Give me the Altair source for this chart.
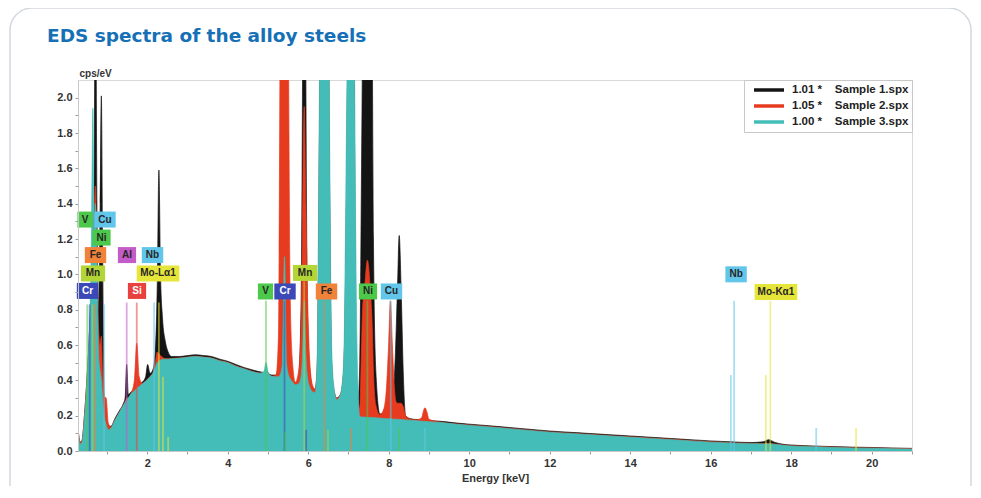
import altair as alt
import pandas as pd

chart_title = "EDS spectra of the alloy steels"

# ---------------- spectra (energy in keV, counts in cps/eV) ----------------
energy = [0.28, 0.33, 0.38, 0.44, 0.50, 0.54, 0.58, 0.62, 0.65, 0.68, 0.71, 0.75, 0.79, 0.83, 0.86, 0.89, 0.93, 0.98, 1.03, 1.10,
          1.20, 1.30, 1.40, 1.45, 1.49, 1.53, 1.60, 1.68, 1.74, 1.80, 1.88, 1.96, 2.01, 2.07, 2.14, 2.20, 2.25, 2.29, 2.33, 2.38,
          2.45, 2.52, 2.60, 2.80, 3.00, 3.20, 3.40, 3.60, 3.80, 4.00, 4.20, 4.40, 4.60, 4.80, 4.90, 4.95, 5.01, 5.10, 5.20, 5.26,
          5.30, 5.36, 5.41, 5.46, 5.51, 5.55, 5.61, 5.68, 5.76, 5.82, 5.86, 5.90, 5.94, 5.98, 6.04, 6.11, 6.17, 6.22, 6.26, 6.29,
          6.40, 6.51, 6.54, 6.58, 6.64, 6.71, 6.80, 6.88, 6.94, 6.98, 7.06, 7.14, 7.18, 7.23, 7.28, 7.32, 7.35, 7.40, 7.47, 7.54,
          7.59, 7.62, 7.68, 7.78, 7.88, 7.95, 8.00, 8.04, 8.09, 8.14, 8.18, 8.22, 8.26, 8.31, 8.36, 8.42, 8.55, 8.70, 8.82, 8.86,
          8.90, 8.95, 9.00, 9.30, 9.70, 10.0, 10.5, 11.0, 11.5, 12.0, 12.5, 13.0, 13.5, 14.0, 14.5, 15.0, 15.5, 16.0, 16.5, 17.0,
          17.3, 17.44, 17.58, 17.8, 18.0, 18.5, 19.0, 19.5, 20.0, 20.5, 21.0]

sample1 = [0.13, 0.05, 0.06, 0.20, 0.40, 0.55, 0.75, 0.90, 1.10, 1.40, 3.00, 1.40, 0.80, 1.40, 2.01, 1.20, 0.30, 0.18, 0.14, 0.14,
           0.185, 0.225, 0.265, 0.30, 0.49, 0.32, 0.335, 0.35, 0.37, 0.375, 0.39, 0.42, 0.49, 0.44, 0.46, 0.56, 0.95, 1.59, 1.00, 0.75,
           0.62, 0.56, 0.535, 0.535, 0.54, 0.545, 0.54, 0.535, 0.52, 0.508, 0.49, 0.473, 0.46, 0.448, 0.445, 0.46, 0.44, 0.43, 0.43, 0.50,
           0.80, 1.20, 1.50, 1.20, 0.80, 0.50, 0.40, 0.37, 0.42, 0.80, 2.20, 5.00, 2.20, 0.80, 0.45, 0.36, 0.35, 0.45, 1.20, 2.20,
           10.0, 2.20, 1.20, 0.50, 0.34, 0.30, 0.32, 0.45, 1.20, 2.20, 5.00, 2.20, 0.60, 0.25, 0.50, 1.50, 2.40, 5.00, 12.0, 5.00,
           2.40, 1.20, 0.45, 0.21, 0.22, 0.25, 0.28, 0.30, 0.32, 0.42, 0.65, 0.95, 1.22, 0.90, 0.45, 0.20, 0.182, 0.178, 0.176, 0.175,
           0.175, 0.174, 0.173, 0.168, 0.158, 0.152, 0.143, 0.133, 0.123, 0.113, 0.106, 0.099, 0.092, 0.085, 0.078, 0.071, 0.064, 0.057, 0.052, 0.048,
           0.052, 0.064, 0.050, 0.038, 0.034, 0.029, 0.025, 0.022, 0.020, 0.017, 0.015]

sample2 = [0.13, 0.05, 0.06, 0.20, 0.40, 0.55, 0.75, 0.95, 1.20, 1.30, 1.50, 1.10, 0.70, 0.60, 0.65, 0.45, 0.31, 0.30, 0.16, 0.135,
           0.177, 0.217, 0.257, 0.277, 0.30, 0.302, 0.327, 0.40, 0.61, 0.42, 0.382, 0.397, 0.407, 0.422, 0.442, 0.50, 0.56, 0.55, 0.54, 0.53,
           0.522, 0.522, 0.524, 0.527, 0.532, 0.537, 0.532, 0.527, 0.512, 0.502, 0.482, 0.467, 0.452, 0.442, 0.445, 0.455, 0.438, 0.424, 0.43, 0.65,
           2.30, 5.00, 9.00, 5.00, 2.30, 0.90, 0.50, 0.39, 0.45, 0.70, 1.30, 1.95, 1.40, 0.90, 0.50, 0.37, 0.35, 0.45, 1.20, 2.20,
           10.0, 2.20, 1.20, 0.50, 0.34, 0.30, 0.32, 0.45, 1.20, 2.20, 5.00, 2.20, 0.60, 0.30, 0.24, 0.55, 0.80, 0.92, 1.08, 0.92,
           0.70, 0.45, 0.26, 0.205, 0.24, 0.38, 0.62, 0.85, 0.60, 0.36, 0.28, 0.27, 0.27, 0.27, 0.25, 0.20, 0.18, 0.177, 0.19, 0.225,
           0.245, 0.22, 0.18, 0.163, 0.153, 0.147, 0.138, 0.128, 0.118, 0.108, 0.101, 0.094, 0.087, 0.080, 0.073, 0.066, 0.059, 0.052, 0.047, 0.043,
           0.042, 0.043, 0.040, 0.034, 0.030, 0.026, 0.022, 0.019, 0.017, 0.015, 0.013]

sample3 = [0.12, 0.04, 0.05, 0.18, 0.38, 0.55, 0.80, 1.30, 1.94, 1.20, 1.40, 1.10, 0.55, 0.45, 0.40, 0.30, 0.20, 0.15, 0.12, 0.13,
           0.175, 0.215, 0.255, 0.275, 0.29, 0.30, 0.325, 0.34, 0.355, 0.365, 0.38, 0.395, 0.405, 0.42, 0.44, 0.47, 0.50, 0.51, 0.515, 0.52,
           0.52, 0.52, 0.522, 0.525, 0.53, 0.535, 0.53, 0.525, 0.51, 0.50, 0.48, 0.465, 0.45, 0.44, 0.45, 0.50, 0.44, 0.422, 0.42, 0.42,
           0.43, 0.50, 1.10, 0.50, 0.43, 0.41, 0.39, 0.375, 0.38, 0.42, 0.55, 0.85, 0.55, 0.42, 0.36, 0.335, 0.33, 0.50, 1.50, 2.60,
           15.0, 2.60, 1.50, 0.60, 0.36, 0.29, 0.32, 0.50, 1.60, 2.60, 6.00, 2.60, 1.20, 0.40, 0.195, 0.193, 0.192, 0.192, 0.19, 0.19,
           0.19, 0.19, 0.188, 0.186, 0.184, 0.183, 0.182, 0.182, 0.181, 0.18, 0.18, 0.18, 0.179, 0.178, 0.177, 0.176, 0.174, 0.171, 0.169, 0.168,
           0.168, 0.167, 0.166, 0.161, 0.151, 0.145, 0.136, 0.126, 0.116, 0.106, 0.099, 0.092, 0.085, 0.078, 0.071, 0.064, 0.057, 0.050, 0.045, 0.041,
           0.040, 0.041, 0.038, 0.032, 0.028, 0.024, 0.020, 0.017, 0.015, 0.013, 0.011]

sample_names = ["Sample 1.spx", "Sample 2.spx", "Sample 3.spx"]
sample_factors = ["1.01", "1.05", "1.00"]
sample_colors = ["#141414", "#e63b1f", "#44bcb8"]

# ---------------- element marker lines ----------------
line_energy = [0.51, 0.57, 0.64, 0.70, 0.93, 1.49, 1.74, 2.17, 2.29,
               4.95, 5.41, 5.90, 6.40, 7.47, 8.05, 16.58, 17.48,
               2.39, 2.52, 5.43, 5.95, 6.49, 7.06, 8.26, 8.90, 16.50, 17.37, 18.62, 19.61]
line_top = [0.83, 0.83, 0.83, 0.83, 0.83, 0.84, 0.84, 0.84, 0.84,
            0.85, 0.85, 0.96, 0.85, 0.85, 0.85, 0.85, 0.85,
            0.42, 0.08, 0.11, 0.12, 0.12, 0.13, 0.13, 0.13, 0.43, 0.43, 0.13, 0.13]
line_element = ["V", "Cr", "Mn", "Fe", "Cu", "Al", "Si", "Nb", "Mo",
                "V", "Cr", "Mn", "Fe", "Ni", "Cu", "Nb", "Mo",
                "Mo", "Mo", "V", "Cr", "Mn", "Fe", "Ni", "Cu", "Nb", "Mo", "Nb", "Mo"]

# ---------------- element labels ----------------
label_text = ["V", "Cu", "Ni", "Fe", "Al", "Nb", "Mn", "Mo-Lα1", "Cr", "Si",
              "V", "Cr", "Mn", "Fe", "Ni", "Cu", "Nb", "Mo-Kα1"]
label_energy = [0.454, 0.95, 0.864, 0.715, 1.497, 2.131, 0.653, 2.268, 0.516, 1.746,
                4.938, 5.423, 5.92, 6.454, 7.485, 8.069, 16.63, 17.62]
label_level = [1.310, 1.310, 1.208, 1.109, 1.109, 1.109, 1.005, 1.005, 0.906, 0.906,
               0.903, 0.903, 1.008, 0.903, 0.903, 0.903, 1.000, 0.900]
label_element = ["V", "Cu", "Ni", "Fe", "Al", "Nb", "Mn", "Mo", "Cr", "Si",
                 "V", "Cr", "Mn", "Fe", "Ni", "Cu", "Nb", "Mo"]

element_fill = {"V": "#4cc94a", "Cr": "#3b48b8", "Mn": "#b3d636", "Fe": "#f0823a",
                "Ni": "#4cc94a", "Cu": "#62c5ea", "Al": "#c35bc9", "Si": "#e8413e",
                "Nb": "#62c5ea", "Mo": "#e6e53a"}
element_ink = {"Cr": "#ffffff", "Si": "#ffffff"}

# ticks: every 0.1 cps/eV (labels every 0.2) and every 1 keV (labels every 2)
y_tick_values = [0.0, 0.1, 0.2, 0.3, 0.4, 0.5, 0.6, 0.7, 0.8, 0.9, 1.0,
                 1.1, 1.2, 1.3, 1.4, 1.5, 1.6, 1.7, 1.8, 1.9, 2.0]
x_tick_values = [1, 2, 3, 4, 5, 6, 7, 8, 9, 10, 11, 12, 13, 14, 15, 16, 17, 18, 19, 20, 21]

# ---------------- geometry ----------------
X_MIN, X_MAX = 0.28, 21.0
Y_MIN, Y_MAX = 0.0, 2.1
W, H = 834, 371
px_per_kev = W / (X_MAX - X_MIN)
px_per_cps = H / (Y_MAX - Y_MIN)


def text_px(s, size=10):
    wide, narrow = set("MmW"), set("il1-.I ")
    return sum((0.9 if c in wide else 0.3 if c in narrow else 0.62) * size for c in s)


series_labels = [f"{f} *" + "\u00a0" * 4 + n for f, n in zip(sample_factors, sample_names)]

rows = []
for lab, vals in zip(series_labels, [sample1, sample2, sample3]):
    assert len(vals) == len(energy)
    for e, v in zip(energy, vals):
        rows.append({"energy": e, "cps": v, "series": lab})
spec = pd.DataFrame(rows)

lines = pd.DataFrame({"energy": line_energy, "top": line_top,
                      "color": [element_fill[e] for e in line_element]})
lines["base"] = 0.0

half_h = 8.0 / px_per_cps
labels = pd.DataFrame({"text": label_text, "energy": label_energy, "level": label_level})
labels["fill"] = [element_fill[e] for e in label_element]
labels["ink"] = [element_ink.get(e, "#262626") for e in label_element]
labels["half_w"] = [(text_px(t) + 9) / 2 / px_per_kev for t in label_text]
labels["x1"] = labels["energy"] - labels["half_w"]
labels["x2"] = labels["energy"] + labels["half_w"]
labels["y1"] = labels["level"] - half_h
labels["y2"] = labels["level"] + half_h

AX_FONT = "Liberation Sans"

xscale = alt.Scale(domain=[X_MIN, X_MAX], nice=False, zero=False)
yscale = alt.Scale(domain=[Y_MIN, Y_MAX], nice=False)

xaxis = alt.Axis(values=x_tick_values, tickCount=40,
                 labelExpr="datum.value % 2 == 0 ? format(datum.value, 'd') : ''",
                 title="Energy [keV]", titleFont=AX_FONT, titleFontSize=11, titleFontWeight="bold",
                 titleColor="#333333", titlePadding=4,
                 labelFont=AX_FONT, labelFontSize=11, labelFontWeight="bold", labelColor="#333333",
                 labelPadding=3, tickSize=3, tickColor="#9a9a9a", domainColor="#c8c8c8",
                 grid=False, labelFlush=False, labelOverlap=False, zindex=1)
yaxis = alt.Axis(values=y_tick_values, tickCount=40,
                 labelExpr="round(datum.value * 10) % 2 == 0 ? format(datum.value, '.1f') : ''",
                 title="cps/eV", titleAngle=0, titleAlign="left", titleBaseline="bottom",
                 titleX=1, titleY=-2, titleFont=AX_FONT, titleFontSize=10, titleFontWeight="bold",
                 titleColor="#333333",
                 labelFont=AX_FONT, labelFontSize=11, labelFontWeight="bold", labelColor="#333333",
                 labelPadding=3, tickSize=3, tickColor="#9a9a9a", domainColor="#c8c8c8",
                 grid=False, labelOverlap=False, labelFlush=False, zindex=1)

cscale = alt.Scale(domain=series_labels, range=sample_colors)
legend = alt.Legend(title=None, orient="top-right", offset=0,
                    symbolType="M0,0H6", symbolSize=100, symbolStrokeWidth=3.5,
                    labelFont=AX_FONT, labelFontSize=11.5, labelFontWeight="bold",
                    labelColor="#222222", labelLimit=400, labelOffset=31,
                    strokeColor="#c8c8c8", fillColor="white", padding=3, rowPadding=2)

one = pd.DataFrame({"k": [0]})

card = alt.Chart(one).mark_rect(fill="transparent", stroke="#d3d9de", strokeWidth=1.5,
                                cornerRadius=22).encode(
    x=alt.value(-68), x2=alt.value(W + 59), y=alt.value(-72), y2=alt.value(H + 120))

title = alt.Chart(one).mark_text(text=chart_title, align="left", baseline="alphabetic",
                                 font="DejaVu Sans", fontSize=18.5, fontWeight="bold",
                                 color="#1670b6").encode(x=alt.value(-31), y=alt.value(-38))

# one area mark, one series per sample; drawn in data order (1 at back, 3 in front)
areas = alt.Chart(spec).mark_area(clip=True, interpolate="monotone", strokeWidth=0.7,
                                  fillOpacity=1).encode(
    x=alt.X("energy:Q", scale=xscale, axis=xaxis),
    y=alt.Y("cps:Q", scale=yscale, axis=yaxis, stack=None),
    fill=alt.Fill("series:N", scale=cscale, legend=legend),
    stroke=alt.Stroke("series:N", scale=cscale, legend=legend))

rules = alt.Chart(lines).mark_rule(strokeWidth=1.8, opacity=0.55, clip=True).encode(
    x="energy:Q", y="base:Q", y2="top:Q", stroke=alt.Stroke("color:N", scale=None))

boxes = alt.Chart(labels).mark_rect().encode(
    x="x1:Q", x2="x2:Q", y="y1:Q", y2="y2:Q", fill=alt.Fill("fill:N", scale=None))

texts = alt.Chart(labels).mark_text(font=AX_FONT, fontSize=10, fontWeight="bold",
                                    align="center", baseline="middle").encode(
    x="energy:Q", y="level:Q", text="text:N", color=alt.Color("ink:N", scale=None))

chart = alt.layer(card, title, areas, rules, boxes, texts).properties(
    width=W, height=H,
    autosize=alt.AutoSizeParams(type="none"),
    padding={"left": 70, "top": 72, "right": 61, "bottom": 35},
    background="white",
).configure_view(stroke="#d9d9d9", strokeWidth=1)

chart.save("out.html", embed_options={"renderer": "svg", "actions": False})
